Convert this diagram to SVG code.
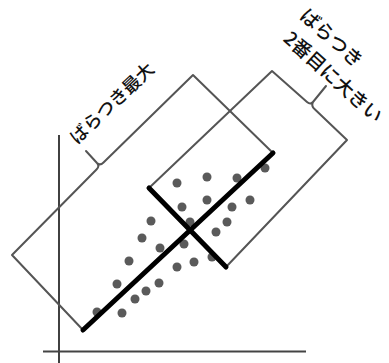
<svg xmlns="http://www.w3.org/2000/svg" width="389" height="363" viewBox="0 0 389 363">
<style>
.thin{fill:none;stroke:#555;stroke-width:2;stroke-linejoin:round;stroke-linecap:round}
.thick{fill:none;stroke:#000;stroke-width:5;stroke-linecap:round}
.dot{fill:#5a5a5a}
.lbl{font-family:"Noto Sans CJK JP","Noto Sans",sans-serif;fill:#111;font-weight:500;dominant-baseline:central}
</style>
<rect width="389" height="363" fill="#fff"/>
<g id="axes">
<line x1="59" y1="135" x2="59" y2="363" stroke="#111" stroke-width="1.6"/>
<line x1="43" y1="351.5" x2="306" y2="351.5" stroke="#444" stroke-width="2"/>
</g>
<g id="bracket-largest">
<path class="thin" d="M83,330 L12,255 L96.5,169.5 Q100,166 97,163 L86,151 M97,163 Q100,166 103.5,162.5 L193,75 L273,153"/>
</g>
<g id="bracket-second">
<path class="thin" d="M149,188 L272,71 L307,102 Q310.5,105 313,102 L326,86 M313,102 Q311,106 314.5,109 L347,140 L226,267"/>
</g>
<g id="dots">
<circle class="dot" cx="177" cy="183" r="4.5"/>
<circle class="dot" cx="207" cy="177" r="4.5"/>
<circle class="dot" cx="237" cy="178" r="4.5"/>
<circle class="dot" cx="265" cy="168" r="4.5"/>
<circle class="dot" cx="182" cy="207" r="4.5"/>
<circle class="dot" cx="207" cy="200" r="4.5"/>
<circle class="dot" cx="232" cy="207" r="4.5"/>
<circle class="dot" cx="250" cy="200" r="4.5"/>
<circle class="dot" cx="151" cy="221" r="4.5"/>
<circle class="dot" cx="190" cy="222" r="4.5"/>
<circle class="dot" cx="227" cy="222" r="4.5"/>
<circle class="dot" cx="142" cy="238" r="4.5"/>
<circle class="dot" cx="216" cy="232" r="4.5"/>
<circle class="dot" cx="160" cy="248" r="4.5"/>
<circle class="dot" cx="184" cy="244" r="4.5"/>
<circle class="dot" cx="129" cy="261" r="4.5"/>
<circle class="dot" cx="177" cy="267" r="4.5"/>
<circle class="dot" cx="194" cy="262" r="4.5"/>
<circle class="dot" cx="212" cy="257" r="4.5"/>
<circle class="dot" cx="117" cy="284" r="4.5"/>
<circle class="dot" cx="159" cy="283" r="4.5"/>
<circle class="dot" cx="146" cy="291" r="4.5"/>
<circle class="dot" cx="135" cy="299" r="4.5"/>
<circle class="dot" cx="122" cy="313" r="4.5"/>
<circle class="dot" cx="97" cy="312" r="4.5"/>
</g>
<g id="principal-axes">
<line class="thick" x1="83" y1="330" x2="273" y2="153"/>
<line class="thick" x1="149" y1="188" x2="226" y2="267"/>
</g>
<g id="label-largest">
<text class="lbl" font-size="18" text-anchor="middle" transform="translate(111,102) rotate(-43.5)">ばらつき最大</text>
</g>
<g id="label-second">
<g transform="translate(288,34) rotate(42)">
<text class="lbl" font-size="19" x="-3" y="-28">ばらつき</text>
<text class="lbl" font-size="19" x="0" y="0">2番目に大きい</text>
</g>
</g>
</svg>
